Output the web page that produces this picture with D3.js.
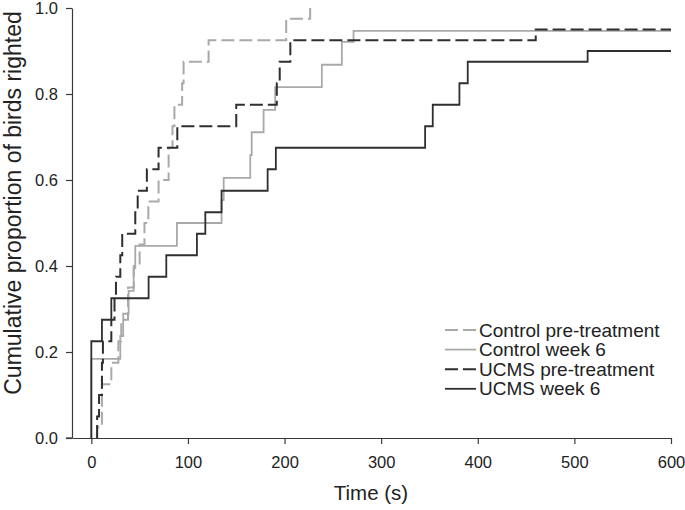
<!DOCTYPE html>
<html><head><meta charset="utf-8">
<script src="https://cdn.jsdelivr.net/npm/d3@7/dist/d3.min.js"></script>
<style>body{margin:0;background:#fff}</style>
</head><body>
<svg id="chart" width="685" height="510"></svg>
<script>
// ---- data ----
const seriesNames = ["Control pre-treatment", "Control week 6", "UCMS pre-treatment", "UCMS week 6"];

const controlPreTimes  = [6, 11, 20.7, 28, 31, 38, 44, 50, 55, 59, 69.6, 80, 84, 86, 94, 95.5, 121.4, 201.7, 226.5];
const controlPreValues = [0.025, 0.125, 0.175, 0.225, 0.275, 0.35, 0.4, 0.45, 0.5, 0.55, 0.6, 0.675, 0.725, 0.775, 0.825, 0.875, 0.925, 0.975, 1.0];

const controlWk6Times  = [0, 30, 33, 38.6, 43.8, 45.5, 88.6, 134.8, 137, 164.5, 166, 178.3, 190.3, 238.6, 259.3, 271.4];
const controlWk6Values = [0.184, 0.237, 0.289, 0.342, 0.395, 0.447, 0.5, 0.553, 0.605, 0.658, 0.711, 0.763, 0.816, 0.868, 0.921, 0.947];

const ucmsPreTimes  = [6, 8, 11, 12, 20.7, 24, 25.5, 30, 32, 45.5, 48, 57.5, 69.6, 89, 150, 192, 195, 206, 460];
const ucmsPreValues = [0.05, 0.1, 0.175, 0.225, 0.275, 0.325, 0.375, 0.425, 0.475, 0.525, 0.575, 0.625, 0.675, 0.725, 0.775, 0.825, 0.875, 0.925, 0.95];

const ucmsWk6Times  = [0, 11, 20.7, 59.3, 77.6, 109.3, 118, 134.8, 182.5, 191, 345.5, 353.4, 381, 389.6, 513.7];
const ucmsWk6Values = [0.225, 0.275, 0.325, 0.375, 0.425, 0.475, 0.525, 0.575, 0.625, 0.675, 0.725, 0.775, 0.825, 0.875, 0.9];

const xTicks = [0, 100, 200, 300, 400, 500, 600];
const yTicks = [0.0, 0.2, 0.4, 0.6, 0.8, 1.0];
const xMax = 600;

// ---- styles ----
const styles = [
  {color: "#a9a9a9", dash: "13,5", width: 2},
  {color: "#a9a9a9", dash: null,   width: 1.8},
  {color: "#2f2f2f", dash: "13,5", width: 2},
  {color: "#2f2f2f", dash: null,   width: 1.8}
];
const extendToEnd = [false, true, true, true];

const series = [
  [controlPreTimes, controlPreValues],
  [controlWk6Times, controlWk6Values],
  [ucmsPreTimes, ucmsPreValues],
  [ucmsWk6Times, ucmsWk6Values]
].map(([t, v], i) => {
  const pts = [[t[0], 0]];
  t.forEach((tt, j) => pts.push([tt, v[j]]));
  if (extendToEnd[i]) pts.push([xMax, v[v.length - 1]]);
  return pts;
});

const svg = d3.select("#chart");
const font = "'Liberation Sans', Arial, Helvetica, sans-serif";

const x = d3.scaleLinear().domain([-20, 600]).range([72, 671]);
const y = d3.scaleLinear().domain([0, 1]).range([438, 8]);

const line = d3.line().x(d => x(d[0])).y(d => y(d[1])).curve(d3.curveStepAfter);

svg.append("g").selectAll("path").data(series).join("path")
  .attr("d", line)
  .attr("fill", "none")
  .attr("stroke", (d, i) => styles[i].color)
  .attr("stroke-width", (d, i) => styles[i].width)
  .attr("stroke-dasharray", (d, i) => styles[i].dash);

// axes
const axisColor = "#3a3a3a";
const gx = svg.append("g").attr("transform", "translate(0,438)")
  .call(d3.axisBottom(x).tickValues(xTicks).tickSize(6).tickSizeOuter(0).tickPadding(12).tickFormat(d3.format("d")));
const gy = svg.append("g").attr("transform", "translate(72,0)")
  .call(d3.axisLeft(y).tickValues(yTicks).tickSize(6).tickSizeOuter(0).tickPadding(8).tickFormat(d3.format(".1f")));
[gx, gy].forEach(g => {
  g.select(".domain").attr("stroke", axisColor).attr("stroke-width", 1.2);
  g.selectAll(".tick line").attr("stroke", axisColor).attr("stroke-width", 1.2);
  g.selectAll(".tick text").attr("fill", "#222").style("font-family", font).style("font-size", "16.5px");
});
gx.append("line").attr("x1", 66).attr("x2", 72).attr("y1", 0).attr("y2", 0)
  .attr("stroke", axisColor).attr("stroke-width", 1.2);

// axis titles
svg.append("text").attr("x", 371).attr("y", 500).attr("text-anchor", "middle")
  .style("font-family", font).style("font-size", "20.5px").attr("fill", "#222").text("Time (s)");
svg.append("text").attr("transform", "translate(21,203) rotate(-90)").attr("text-anchor", "middle")
  .style("font-family", font).style("font-size", "23px").attr("fill", "#222")
  .text("Cumulative proportion of birds righted");

// legend
const lg = svg.append("g");
seriesNames.forEach((name, i) => {
  const yy = 330 + i * 19.6;
  lg.append("line").attr("x1", 445).attr("x2", 476).attr("y1", yy).attr("y2", yy)
    .attr("stroke", styles[i].color).attr("stroke-width", styles[i].width)
    .attr("stroke-dasharray", styles[i].dash);
  lg.append("text").attr("x", 479).attr("y", yy).attr("dy", "0.35em")
    .style("font-family", font).style("font-size", "19px").attr("fill", "#222").text(name);
});
</script>
</body></html>
